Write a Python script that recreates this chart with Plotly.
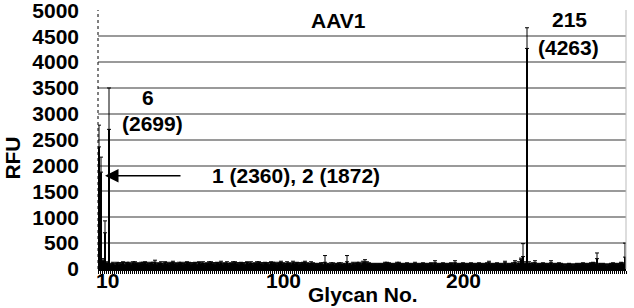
import plotly.graph_objects as go

# Glycan numbers 1..264 and mean RFU values
RFU = [
    2360, 1872, 170, 700, 120, 2699, 90, 100, 80, 110, 90, 100, 120, 90, 110, 100, 90, 120, 110, 100,
    90, 100, 110, 120, 100, 90, 110, 100, 130, 90, 100, 110, 90, 120, 100, 90, 110, 120, 100, 90,
    100, 110, 90, 100, 120, 110, 90, 100, 110, 90, 120, 100, 110, 90, 100, 110, 120, 100, 90, 110,
    100, 120, 90, 100, 110, 90, 100, 110, 120, 100, 90, 110, 100, 90, 120, 100, 110, 90, 100, 110,
    120, 100, 90, 110, 100, 90, 120, 110, 100, 90, 110, 120, 100, 90, 110, 100, 90, 120, 100, 110,
    90, 100, 110, 120, 100, 90, 110, 100, 90, 80, 90, 100, 90, 130, 90, 80, 90, 100, 80, 90,
    100, 90, 80, 90, 140, 90, 80, 100, 90, 110, 100, 90, 120, 130, 110, 100, 90, 80, 90, 80,
    90, 80, 90, 100, 110, 100, 90, 80, 90, 100, 110, 90, 80, 90, 100, 90, 80, 90, 100, 90,
    80, 90, 100, 90, 80, 90, 100, 90, 120, 90, 80, 90, 100, 90, 80, 90, 100, 90, 120, 90,
    80, 90, 100, 90, 80, 90, 100, 90, 80, 90, 100, 90, 80, 90, 100, 120, 90, 80, 90, 100,
    90, 80, 90, 120, 90, 80, 90, 100, 130, 90, 110, 180, 240, 110, 4263, 110, 90, 100, 120, 90,
    80, 90, 100, 90, 80, 90, 120, 90, 80, 90, 100, 90, 80, 70, 80, 90, 80, 70, 80, 90,
    80, 90, 100, 90, 80, 90, 100, 110, 100, 200, 90, 80, 90, 80, 70, 80, 90, 100, 90, 80,
    90, 110, 100, 230,
]
ERR = [
    420, 290, 30, 230, 20, 800, 20, 30, 20, 20, 30, 20, 20, 30, 20, 30, 20, 20, 30, 20,
    20, 30, 20, 20, 30, 20, 20, 30, 40, 20, 20, 30, 20, 20, 30, 20, 20, 30, 20, 20,
    30, 20, 20, 30, 20, 20, 30, 20, 20, 30, 20, 20, 30, 20, 20, 30, 20, 20, 30, 20,
    20, 30, 20, 20, 30, 20, 20, 30, 20, 20, 30, 20, 20, 30, 20, 20, 30, 20, 20, 30,
    20, 20, 30, 20, 20, 30, 20, 20, 30, 20, 20, 30, 20, 20, 30, 20, 20, 30, 20, 20,
    30, 20, 20, 30, 20, 20, 30, 20, 20, 20, 20, 20, 30, 130, 20, 20, 30, 20, 20, 20,
    20, 30, 20, 20, 120, 20, 20, 30, 20, 20, 30, 20, 30, 50, 30, 20, 20, 20, 20, 20,
    20, 20, 20, 30, 20, 20, 20, 20, 20, 30, 20, 20, 20, 20, 20, 20, 20, 20, 30, 20,
    20, 20, 20, 20, 20, 20, 20, 20, 40, 20, 20, 20, 20, 20, 20, 20, 20, 20, 40, 20,
    20, 20, 20, 20, 20, 20, 20, 20, 20, 20, 20, 20, 20, 20, 20, 30, 20, 20, 20, 20,
    20, 20, 20, 30, 20, 20, 20, 20, 30, 20, 30, 30, 250, 30, 400, 30, 20, 20, 40, 20,
    20, 20, 20, 20, 20, 20, 40, 20, 20, 20, 20, 20, 20, 20, 20, 20, 20, 20, 20, 20,
    20, 20, 20, 20, 20, 20, 20, 20, 20, 110, 20, 20, 20, 20, 20, 20, 20, 20, 20, 20,
    20, 20, 20, 270,
]
GLYCAN = list(range(1, len(RFU) + 1))

# tick labels as they appear on the original axis
TICK_POS = [5, 93, 183]
TICK_TEXT = ["10", "100", "200"]
Y_TICKS = list(range(0, 5001, 500))

FONT = "Liberation Sans, Arial, Helvetica, sans-serif"
BIG = dict(family=FONT, size=21, color="black", weight="bold")

fig = go.Figure()
fig.add_trace(go.Bar(
    x=GLYCAN, y=RFU,
    marker=dict(color="black", line=dict(width=0)),
    width=0.8,
    error_y=dict(type="data", array=ERR, visible=True, color="black",
                 thickness=1, width=2, symmetric=False, arrayminus=[0] * len(ERR)),
    showlegend=False,
))

fig.update_layout(
    width=634, height=308,
    margin=dict(l=98, r=8, t=10, b=39),
    paper_bgcolor="white", plot_bgcolor="white",
    font=dict(family=FONT, size=21, color="black"),
    xaxis=dict(
        range=[0.5, 264.5], automargin=False,
        showticklabels=False,
        ticks="", showgrid=False, zeroline=False,
        showline=True, linecolor="black", linewidth=1.5,
        minor=dict(ticks="outside", dtick=1, tick0=0.5, ticklen=3,
                   tickcolor="black", tickwidth=1, showgrid=False),
    ),
    yaxis=dict(
        range=[0, 5006], automargin=False,
        tickmode="array", tickvals=Y_TICKS,
        tickfont=BIG, ticklabeloverflow="allow",
        ticks="", ticklabelstandoff=18,
        showgrid=True, gridcolor="#9a9a9a", gridwidth=1.5,
        zeroline=False, showline=False,
    ),
)

# x tick labels placed at their data positions just below the axis
for pos, txt in zip(TICK_POS, TICK_TEXT):
    fig.add_annotation(x=pos, xref="x", yref="paper", y=-0.046, yanchor="middle",
                       text=txt, showarrow=False, font=BIG)

# axis titles
fig.add_annotation(xref="paper", yref="paper", x=0.502, y=-0.1, yanchor="middle",
                   text="Glycan No.", showarrow=False, font=BIG)
fig.add_annotation(xref="paper", yref="paper", x=-0.161, y=0.43, xanchor="center",
                   yanchor="middle", textangle=-90, text="RFU", showarrow=False, font=BIG)

# dotted y-axis line and light right border
fig.add_shape(type="line", xref="paper", yref="paper", x0=0, x1=0, y0=0, y1=1,
              line=dict(color="black", width=1, dash="dot"))
fig.add_shape(type="line", xref="paper", yref="paper", x0=1, x1=1, y0=0, y1=1,
              line=dict(color="#bbbbbb", width=1))

fig.add_annotation(x=120.5, y=4807, text="AAV1", showarrow=False, font=BIG)
fig.add_annotation(x=25.5, y=3320, text="6", showarrow=False, font=BIG)
fig.add_annotation(x=27.5, y=2818, text="(2699)", showarrow=False, font=BIG)
fig.add_annotation(x=236, y=4826, text="215", showarrow=False, font=BIG)
fig.add_annotation(x=235.5, y=4286, text="(4263)", showarrow=False, font=BIG)
fig.add_annotation(x=99.5, y=1815, text="1 (2360), 2 (1872)", showarrow=False, font=BIG)
fig.add_annotation(x=4, y=1800, ax=42.5, ay=1800, axref="x", ayref="y",
                   text="", showarrow=True, arrowhead=2, arrowsize=1.8,
                   arrowwidth=1.5, arrowcolor="black")

fig.write_html("out.html")
